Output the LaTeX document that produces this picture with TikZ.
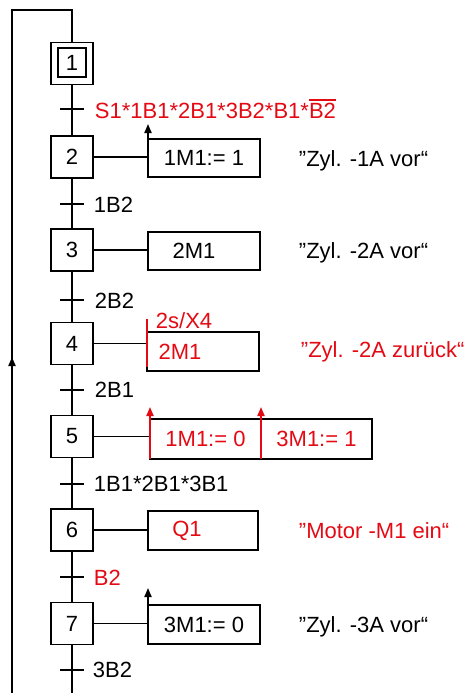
\documentclass[tikz,border=0pt]{standalone}
\usepackage{fontspec}
\setmainfont{Liberation Sans}
\usetikzlibrary{arrows.meta,positioning,calc}
\definecolor{grafred}{RGB}{228,10,20}
\newcommand{\negated}[1]{\setbox0\hbox{#1}\rlap{\rule[\dimexpr\ht0+2pt\relax]{\wd0}{1.8pt}}\box0}

\begin{document}
\begin{tikzpicture}[
        x=1pt, y=-1pt, line width=1.9pt,
        font=\fontsize{22}{26}\selectfont,
        stepbox/.style={draw, minimum size=42pt, inner sep=0pt},
        actbox/.style={draw, minimum width=112pt, minimum height=38pt, inner sep=0pt, outer sep=0pt},
        cond/.style={anchor=base west, inner sep=0pt},
        note/.style={anchor=base west, inner sep=0pt},
        up/.style={-{Triangle[length=9pt,width=7pt]}}
    ]
        \useasboundingbox (0,0) rectangle (472,693);

        % steps
        \node[stepbox] (s1) at (72,63.5) {};
        \node[draw, minimum width=28pt, minimum height=29pt, inner sep=0pt] (s1i) at (72,62.5) {1};
        \node[stepbox] (s2) at (72,157) {2};
        \node[stepbox] (s3) at (72,250) {3};
        \node[stepbox] (s4) at (72,343.5) {4};
        \node[stepbox] (s5) at (72,436.5) {5};
        \node[stepbox] (s6) at (72,530) {6};
        \node[stepbox] (s7) at (72,623.5) {7};

        % transitions
        \coordinate (t1) at (72,109);
        \coordinate (t2) at (72,204);
        \coordinate (t3) at (72,300);
        \coordinate (t4) at (72,390);
        \coordinate (t5) at (72,484);
        \coordinate (t6) at (72,577);
        \coordinate (t7) at (72,670);
        \coordinate (end) at (72,693);
        \coordinate (back) at (12,693);
        \coordinate (mid) at (12,357);
        \coordinate (corner) at (12,10);

        \draw (s1) -- (s2) -- (s3) -- (s4) -- (s5) -- (s6) -- (s7) -- (end);
        \draw[up] (back) -- (mid);
        \draw (back) -- (corner) -| (s1.north);

        \foreach \t in {t1,t2,t3,t4,t5,t6,t7}
            \draw ($(\t)+(-12,0)$) -- ($(\t)+(12,0)$);

        \node[cond, text=grafred] (l1) at ($(t1)+(22,9)$) {S1*1B1*2B1*3B2*B1*\negated{B2}};
        \node[cond] (l2) at ($(t2)+(21,8)$) {1B2};
        \node[cond] (l3) at ($(t3)+(22,8)$) {2B2};
        \node[cond] (l4) at ($(t4)+(22,7)$) {2B1};
        \node[cond] (l5) at ($(t5)+(21,7)$) {1B1*2B1*3B1};
        \node[cond, text=grafred] (l6) at ($(t6)+(21,8)$) {B2};
        \node[cond] (l7) at ($(t7)+(20,7)$) {3B2};

        % actions
        \node[actbox] (a2) at (204,158) {1M1:= 1};
        \node[actbox] (a3) at (204,251) {2M1\hspace*{20pt}};
        \node[actbox, minimum height=39pt, text=grafred] (a4) at (203,351.5) {2M1\hspace*{46pt}};
        \node[actbox, minimum width=111pt, minimum height=40pt, text=grafred] (a5a) at (205.5,439) {1M1:= 0};
        \node[actbox, minimum width=111pt, minimum height=40pt, text=grafred, right=0pt of a5a] (a5b) {3M1:= 1};
        \node[actbox, minimum width=110pt, minimum height=39pt] (a6) at (203,530.5) {\textcolor{grafred}{Q1}\hspace*{32pt}};
        \node[actbox, minimum height=39pt] (a7) at (204,624.5) {3M1:= 0};

        \draw (s2) -- (s2 -| a2.west);
        \draw (s3) -- (s3 -| a3.west);
        \draw (s4) -- (s4 -| a4.west);
        \draw (s5) -- (s5 -| a5a.west);
        \draw (s6) -- (s6 -| a6.west);
        \draw (s7) -- (s7 -| a7.west);

        \draw[up] (a2.north west) -- ++(0,-15);
        \draw[up] (a7.north west) -- ++(0,-17);
        \draw[grafred] ([yshift=4pt]a4.south west) -- ++(0,-48);
        \node[note, text=grafred] (d4) at ($(a4.north west)+(8,-4)$) {2s/X4};
        \draw[grafred, up] (a5a.south west) -- ++(0,-52);
        \draw[grafred, up] (a5b.south west) -- ++(0,-52);

        % comments
        \node[note] (c2) at (298,166) {”Zyl. -1A vor“};
        \node[note] (c3) at (298,258) {”Zyl. -2A vor“};
        \node[note, text=grafred] (c4) at (300,357) {”Zyl. -2A zurück“};
        \node[note, text=grafred] (c6) at (298,538) {”Motor -M1 ein“};
        \node[note] (c7) at (298,632) {”Zyl. -3A vor“};
    \end{tikzpicture}
\end{document}
